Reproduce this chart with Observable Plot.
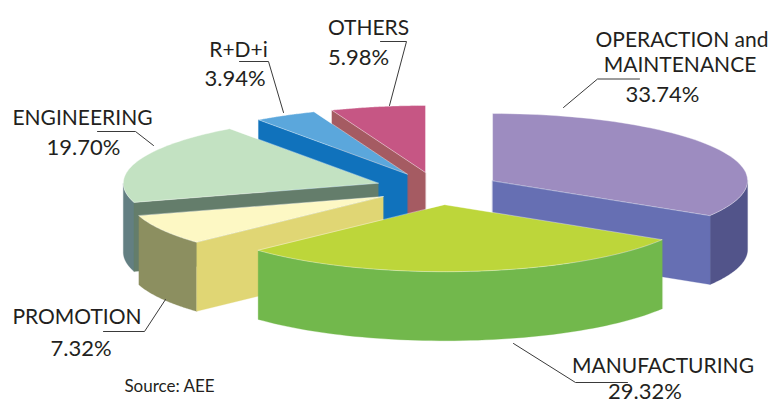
<!DOCTYPE html>
<html><head><meta charset="utf-8">
<style>html,body{margin:0;padding:0;background:#fff}svg{display:block}</style>
<script src="https://cdn.jsdelivr.net/npm/d3@7"></script>
<script src="https://cdn.jsdelivr.net/npm/@observablehq/plot@0.6"></script>
</head><body><script>
const categories = ["OPERACTION and MAINTENANCE","MANUFACTURING","PROMOTION","ENGINEERING","R+D+i","OTHERS"];
const shares = [33.74,29.32,7.32,19.70,3.94,5.98];
const topColors = ["#9d8cc0","#bdd63a","#fdf8c4","#c3e2c2","#5ba7dc","#c65684"];
const faceColors = ["#666fb3","#72b84c","#e0d674","#647d6b","#1072bc","#a55b62"];
const wallColors = ["#52548a","#72b84c","#8c8f60","#637f82","#1072bc","#a55b62"];
const drawOrder = [0,5,4,3,2,1];

// pie layout
const cx=438, cy=188, rx=255, ry=67, depth=69, explode=62;

const total = d3.sum(shares);
let run = 0;
const slices = shares.map((v,i)=>{
  const a0 = run/total*2*Math.PI; run += v;
  const a1 = run/total*2*Math.PI, m=(a0+a1)/2;
  return {i,a0,a1,ox:cx+explode*Math.sin(m)-(i>=2?1.5:0),oy:cy-explode*ry/rx*Math.cos(m)};
});
const pt=(s,a,dz=0)=>({x:s.ox+rx*Math.sin(a),y:s.oy-ry*Math.cos(a)+dz});
const arc=(s,a0,a1,dz=0)=>d3.range(0,61).map(k=>pt(s,a0+(a1-a0)*k/60,dz));
const poly=(points,fill,edge=false)=>Plot.line(points,{x:"x",y:"y",curve:"linear-closed",fill,
  stroke:edge?"#fff":fill,strokeWidth:edge?0.7:0.3,strokeOpacity:edge?0.55:1});

const pieMarks=[];
for(const i of drawOrder){
  const s=slices[i], c={x:s.ox,y:s.oy}, cb={x:s.ox,y:s.oy+depth};
  // outer wall: the part of the rim that faces the viewer
  const w0=Math.max(s.a0,Math.PI/2), w1=Math.min(s.a1,1.5*Math.PI);
  if(w1>w0) pieMarks.push(poly([...arc(s,w0,w1),...arc(s,w1,w0,depth)],wallColors[i]));
  // cut faces that turn toward the viewer
  if(s.a1<=Math.PI) pieMarks.push(poly([c,pt(s,s.a1),pt(s,s.a1,depth),cb],faceColors[i]));
  if(s.a0>=Math.PI) pieMarks.push(poly([c,pt(s,s.a0),pt(s,s.a0,depth),cb],faceColors[i]));
  pieMarks.push(poly([c,...arc(s,s.a0,s.a1)],topColors[i],true));
}

const nameLines = [
  {t:"OPERACTION and",x:681.5,y:46},{t:"MAINTENANCE",x:679.5,y:71},
  {t:"OTHERS",x:368,y:34},{t:"R+D+i",x:238,y:56},
  {t:"ENGINEERING",x:82,y:124},{t:"PROMOTION",x:76.5,y:323},
  {t:"MANUFACTURING",x:662.5,y:372}
];
const percentLines = [
  {t:"33.74%",x:662,y:101},{t:"5.98%",x:358,y:64},{t:"3.94%",x:234.5,y:85},
  {t:"19.70%",x:83,y:154},{t:"7.32%",x:80.5,y:355},{t:"29.32%",x:644.5,y:398}
];
const sourceNote=[{t:"Source: AEE",x:169,y:391}];
const leaders=[
  [[563,107],[597,78.5],[639,78.5]],
  [[380,41],[406,41],[389,105]],
  [[239,61],[268,61],[283,112]],
  [[97,131],[135,131],[153,145]],
  [[103,331],[144,331],[165,299]],
  [[513,343],[575,382],[627,382]]
];

const font='Lato';
const textOpts={x:"x",y:"y",text:"t",fontFamily:font,fill:"#231f20",lineAnchor:"bottom",textAnchor:"middle"};
const chart=Plot.plot({
  width:772,height:403,margin:0,
  x:{domain:[0,772],range:[0,772],axis:null},
  y:{domain:[0,403],range:[0,403],axis:null},
  style:{background:"#fff"},
  marks:[
    ...pieMarks,
    ...leaders.map(l=>Plot.line(l,{x:d=>d[0],y:d=>d[1],stroke:"#3a3a3a",strokeWidth:1})),
    Plot.text(nameLines,{...textOpts,fontSize:21}),
    Plot.text(percentLines,{...textOpts,fontSize:22}),
    Plot.text(sourceNote,{...textOpts,fontSize:17})
  ]
});
document.body.appendChild(chart);
</script></body></html>
